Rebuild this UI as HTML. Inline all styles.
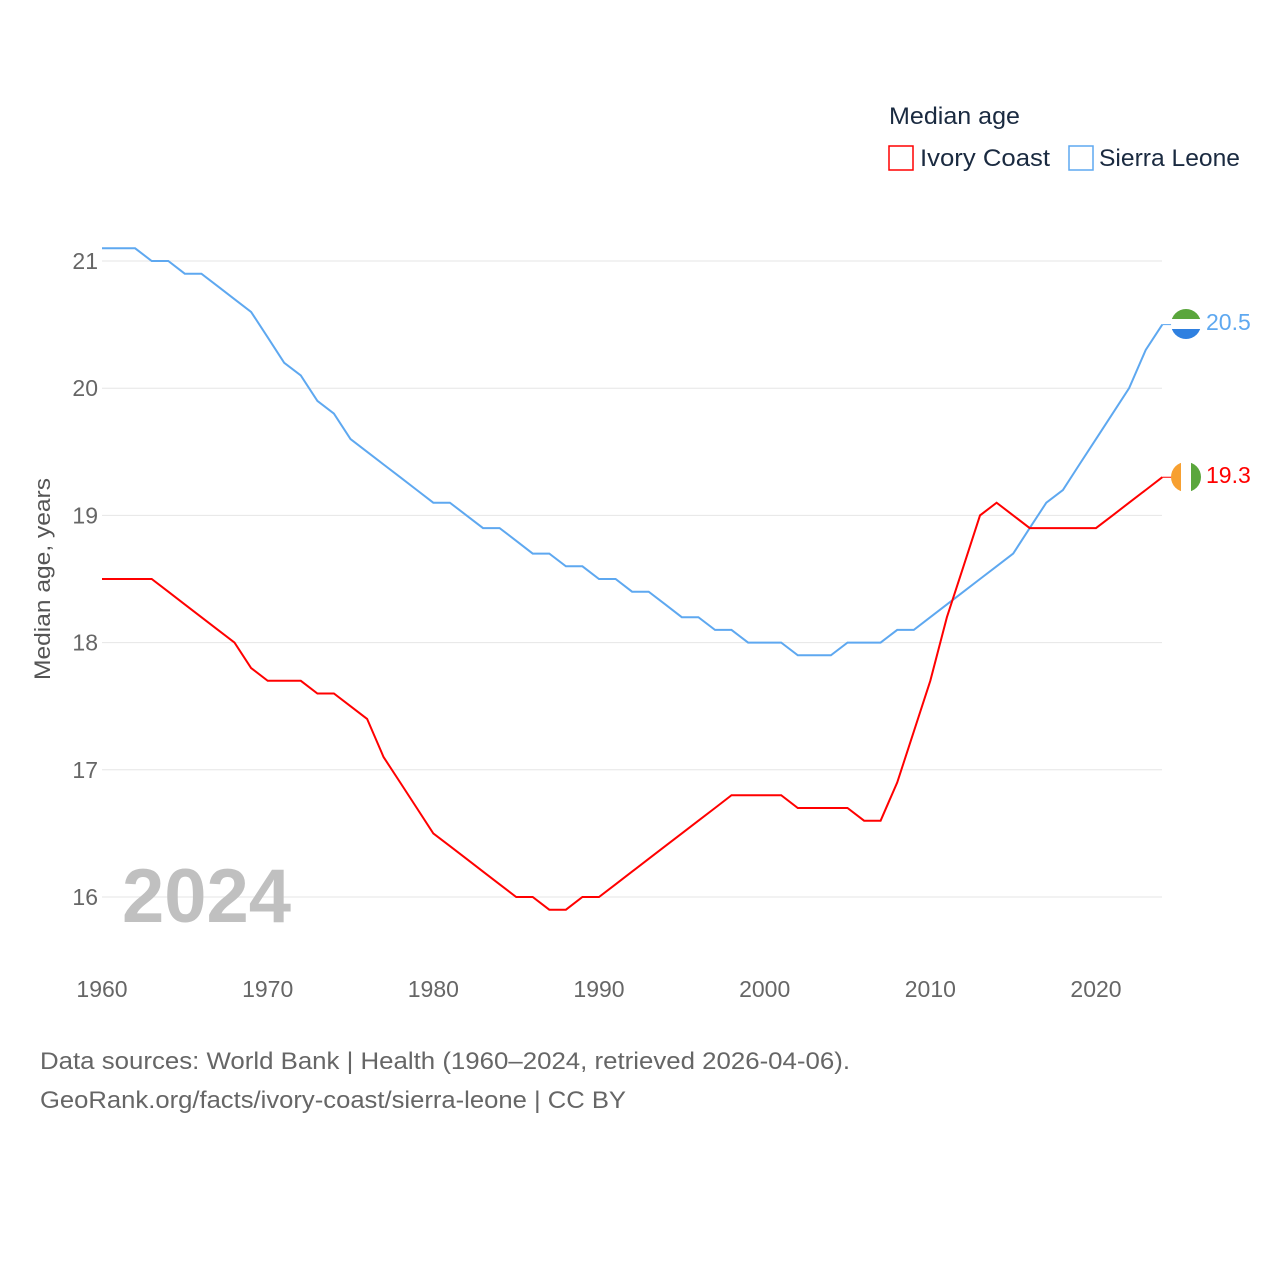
<!DOCTYPE html>
<html><head><meta charset="utf-8"><style>
body{margin:0;background:#fff;font-family:"Liberation Sans",sans-serif}
svg text{font-family:"Liberation Sans",sans-serif}
</style></head><body>
<svg id="chart" width="1280" height="1280" viewBox="0 0 1280 1280">
<defs>
<clipPath id="c1"><circle cx="1186" cy="324" r="15"/></clipPath>
<clipPath id="c2"><circle cx="1186" cy="477" r="15"/></clipPath>
</defs>
<g id="grid"></g>
<g id="xt"></g>
<text transform="translate(50,579) rotate(-90)" text-anchor="middle" font-size="22" fill="#555" textLength="202" lengthAdjust="spacingAndGlyphs">Median age, years</text>
<text x="122" y="922" font-size="76" font-weight="bold" fill="#c0c0c0">2024</text>
<g id="lines"></g>
<g>
<text x="889" y="124" font-size="24" fill="#1a2a40" textLength="131" lengthAdjust="spacingAndGlyphs">Median age</text>
<rect x="889" y="146" width="24" height="24" fill="none" stroke="#ff0000" stroke-width="1.5"/>
<text x="920" y="166" font-size="24" fill="#1a2a40" textLength="130" lengthAdjust="spacingAndGlyphs">Ivory Coast</text>
<rect x="1069" y="146" width="24" height="24" fill="none" stroke="#5ea8f0" stroke-width="1.5"/>
<text x="1099" y="166" font-size="24" fill="#1a2a40" textLength="141" lengthAdjust="spacingAndGlyphs">Sierra Leone</text>
</g>
<g clip-path="url(#c1)">
<rect x="1171" y="309" width="30" height="10" fill="#5aa63c"/><rect x="1171" y="319" width="30" height="10" fill="#fff"/><rect x="1171" y="329" width="30" height="10" fill="#2f80e0"/>
</g>
<g clip-path="url(#c2)">
<rect x="1171" y="462" width="10" height="30" fill="#f7a031"/><rect x="1181" y="462" width="10" height="30" fill="#fff"/><rect x="1191" y="462" width="10" height="30" fill="#5aa63c"/>
</g>
<text x="1206" y="330" font-size="23" fill="#5ea8f0">20.5</text>
<text x="1206" y="483" font-size="23" fill="#ff0000">19.3</text>
<text x="40" y="1069" font-size="24" fill="#666" textLength="810" lengthAdjust="spacingAndGlyphs">Data sources: World Bank | Health (1960–2024, retrieved 2026-04-06).</text>
<text x="40" y="1108" font-size="24" fill="#666" textLength="586" lengthAdjust="spacingAndGlyphs">GeoRank.org/facts/ivory-coast/sierra-leone | CC BY</text>
</svg>
<script>
const years=[];for(let y=1960;y<=2024;y++)years.push(y);
const sierraLeone=[21.1,21.1,21.1,21.0,21.0,20.9,20.9,20.8,20.7,20.6,20.4,20.2,20.1,19.9,19.8,19.6,19.5,19.4,19.3,19.2,19.1,19.1,19.0,18.9,18.9,18.8,18.7,18.7,18.6,18.6,18.5,18.5,18.4,18.4,18.3,18.2,18.2,18.1,18.1,18.0,18.0,18.0,17.9,17.9,17.9,18.0,18.0,18.0,18.1,18.1,18.2,18.3,18.4,18.5,18.6,18.7,18.9,19.1,19.2,19.4,19.6,19.8,20.0,20.3,20.5];
const ivoryCoast=[18.5,18.5,18.5,18.5,18.4,18.3,18.2,18.1,18.0,17.8,17.7,17.7,17.7,17.6,17.6,17.5,17.4,17.1,16.9,16.7,16.5,16.4,16.3,16.2,16.1,16.0,16.0,15.9,15.9,16.0,16.0,16.1,16.2,16.3,16.4,16.5,16.6,16.7,16.8,16.8,16.8,16.8,16.7,16.7,16.7,16.7,16.6,16.6,16.9,17.3,17.7,18.2,18.6,19.0,19.1,19.0,18.9,18.9,18.9,18.9,18.9,19.0,19.1,19.2,19.3];
const yTicks=[16,17,18,19,20,21];
const xTicks=[1960,1970,1980,1990,2000,2010,2020];
const X=v=>102+(v-1960)*(1096-102)/60;
const Y=v=>897-(v-16)*(897-261)/5;
const NS="http://www.w3.org/2000/svg";
const grid=document.getElementById('grid');
yTicks.forEach(t=>{
 const l=document.createElementNS(NS,'line');
 
 
 l.setAttribute('x1',102);l.setAttribute('x2',1162);l.setAttribute('y1',Y(t));l.setAttribute('y2',Y(t));
 l.setAttribute('stroke','#e6e6e6');l.setAttribute('stroke-width','1');grid.appendChild(l);
 const tx=document.createElementNS(NS,'text');
 
 
 tx.setAttribute('x',98);tx.setAttribute('y',Y(t)+8);tx.setAttribute('text-anchor','end');
 tx.setAttribute('font-size','23');tx.setAttribute('fill','#666');tx.textContent=t;grid.appendChild(tx);
});
const xt=document.getElementById('xt');
xTicks.forEach(t=>{
 const tx=document.createElementNS(NS,'text');
 
 
 tx.setAttribute('x',X(t));tx.setAttribute('y',997);tx.setAttribute('text-anchor','middle');
 tx.setAttribute('font-size','23');tx.setAttribute('fill','#666');tx.textContent=t;xt.appendChild(tx);
});
const lines=document.getElementById('lines');
function draw(vals,color,name){
 const p=document.createElementNS(NS,'path');
 
 
 p.setAttribute('d',vals.map((v,i)=>(i?'L':'M')+X(years[i]).toFixed(1)+','+Y(v).toFixed(1)).join(''));
 p.setAttribute('fill','none');p.setAttribute('stroke',color);p.setAttribute('stroke-width','2');
 lines.appendChild(p);
 const n=vals.length-1;
 const c=document.createElementNS(NS,'line');
 
 
 c.setAttribute('x1',X(years[n]));c.setAttribute('x2',1172);c.setAttribute('y1',Y(vals[n]));c.setAttribute('y2',Y(vals[n]));
 c.setAttribute('stroke',color);c.setAttribute('stroke-width','1');lines.appendChild(c);
}
draw(sierraLeone,'#5ea8f0','line-sierra-leone');
draw(ivoryCoast,'#ff0000','line-ivory-coast');
</script>
</body></html>
